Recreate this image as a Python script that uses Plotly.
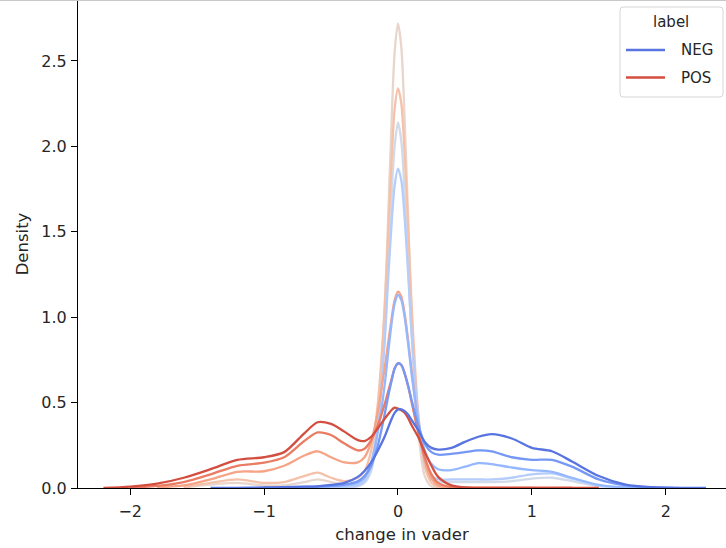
import plotly.graph_objects as go

# shared x grid (change in vader)
x_grid = [-2.2, -2.0, -1.8, -1.6, -1.4, -1.2, -1.0, -0.85, -0.7, -0.6, -0.5, -0.4, -0.3, -0.25,
          -0.2, -0.15, -0.1, -0.075, -0.05, -0.025, 0.0, 0.025, 0.05, 0.075, 0.1, 0.15, 0.2,
          0.25, 0.3, 0.4, 0.5, 0.6, 0.7, 0.85, 1.0, 1.15, 1.3, 1.5, 1.7, 1.9, 2.1, 2.3]
N = None

# POS densities (reds), lightest -> darkest
pos_5 = [N, N, N, 0.003, 0.02, 0.03, 0.015, 0.015, 0.035, 0.05, 0.035, 0.02, 0.03, 0.06,
         0.15, 0.40, 1.05, 1.55, 2.10, 2.55, 2.72, 2.58, 2.15, 1.60, 1.05, 0.35, 0.07,
         0.01, 0.002, 0.0, 0.0, 0.0, 0.0, 0.0, 0.0, N, N, N, N, N, N, N]
pos_4 = [N, N, N, 0.005, 0.03, 0.05, 0.03, 0.035, 0.07, 0.09, 0.06, 0.04, 0.06, 0.10,
         0.22, 0.50, 1.05, 1.45, 1.88, 2.22, 2.34, 2.25, 1.95, 1.55, 1.10, 0.45, 0.13,
         0.03, 0.006, 0.001, 0.0, 0.0, 0.0, 0.0, 0.0, N, N, N, N, N, N, N]
pos_3 = [N, N, 0.004, 0.015, 0.05, 0.095, 0.098, 0.13, 0.19, 0.215, 0.18, 0.15, 0.15, 0.18,
         0.27, 0.45, 0.70, 0.84, 0.98, 1.10, 1.15, 1.12, 1.02, 0.87, 0.70, 0.38, 0.16,
         0.055, 0.015, 0.002, 0.0, 0.0, 0.0, 0.0, 0.0, 0.0, 0.0, N, N, N, N, N]
pos_2 = [N, 0.003, 0.012, 0.035, 0.08, 0.13, 0.148, 0.18, 0.275, 0.325, 0.31, 0.26, 0.22, 0.23,
         0.28, 0.37, 0.49, 0.56, 0.63, 0.70, 0.73, 0.72, 0.67, 0.60, 0.51, 0.33, 0.18,
         0.08, 0.03, 0.005, 0.001, 0.0, 0.0, 0.0, 0.0, 0.0, 0.0, N, N, N, N, N]
pos_1 = [0.0, 0.008, 0.025, 0.06, 0.11, 0.165, 0.18, 0.21, 0.32, 0.385, 0.375, 0.33, 0.28, 0.275,
         0.30, 0.35, 0.405, 0.43, 0.455, 0.47, 0.465, 0.455, 0.44, 0.41, 0.37, 0.30, 0.21,
         0.13, 0.065, 0.015, 0.003, 0.001, 0.0, 0.0, 0.0, 0.0, 0.0, 0.0, N, N, N, N]

# NEG densities (blues), lightest -> darkest
neg_5 = [N, N, N, N, N, N, N, N, 0.001, 0.002, 0.003, 0.004, 0.01, 0.03,
         0.10, 0.36, 0.88, 1.28, 1.68, 2.00, 2.14, 2.03, 1.72, 1.32, 0.92, 0.36, 0.12,
         0.05, 0.035, 0.035, 0.035, 0.035, 0.035, 0.04, 0.055, 0.06, 0.04, 0.01, 0.001, N, N, N]
neg_4 = [N, N, N, N, N, N, N, N, 0.002, 0.004, 0.005, 0.007, 0.015, 0.04,
         0.12, 0.38, 0.85, 1.20, 1.52, 1.77, 1.87, 1.80, 1.58, 1.27, 0.93, 0.42, 0.16,
         0.07, 0.05, 0.05, 0.05, 0.05, 0.05, 0.06, 0.08, 0.085, 0.055, 0.015, 0.002, 0.0, N, N]
neg_3 = [N, N, N, N, N, N, N, 0.002, 0.005, 0.008, 0.01, 0.015, 0.03, 0.06,
         0.15, 0.33, 0.60, 0.78, 0.95, 1.08, 1.13, 1.10, 1.00, 0.85, 0.68, 0.40, 0.22,
         0.14, 0.11, 0.105, 0.125, 0.145, 0.14, 0.12, 0.105, 0.095, 0.06, 0.018, 0.003, 0.0, N, N]
neg_2 = [N, N, N, N, N, N, 0.002, 0.004, 0.006, 0.008, 0.012, 0.02, 0.04, 0.07,
         0.13, 0.25, 0.43, 0.53, 0.62, 0.70, 0.73, 0.72, 0.67, 0.60, 0.52, 0.37, 0.26,
         0.21, 0.195, 0.20, 0.21, 0.22, 0.215, 0.18, 0.165, 0.165, 0.125, 0.05, 0.015, 0.003, 0.0, N]
neg_1 = [N, N, N, N, 0.0, 0.001, 0.003, 0.005, 0.008, 0.01, 0.018, 0.03, 0.065, 0.10,
         0.15, 0.22, 0.30, 0.35, 0.40, 0.44, 0.46, 0.46, 0.45, 0.43, 0.40, 0.34, 0.27,
         0.235, 0.225, 0.235, 0.27, 0.30, 0.315, 0.29, 0.235, 0.215, 0.155, 0.07, 0.02, 0.005, 0.001, 0.0]

pos_series = [pos_5, pos_4, pos_3, pos_2, pos_1]
neg_series = [neg_5, neg_4, neg_3, neg_2, neg_1]
pos_colors = ["#e8d6cc", "#f5c1a9", "#f6a386", "#ea7c63", "#d44e40"]
neg_colors = ["#d1dae9", "#b4cdfa", "#95b7ff", "#7598f6", "#5774e0"]

legend_title = "label"
legend_labels = ["NEG", "POS"]
legend_colors = ["#5774e0", "#d44e40"]

x_ticks = [-2, -1, 0, 1, 2]
x_ticktext = ["\u22122", "\u22121", "0", "1", "2"]
y_ticks = [0.0, 0.5, 1.0, 1.5, 2.0, 2.5]

W, H = 726, 548
ML, MR, MT, MB = 78, 0, 0, 60
PW, PH = W - ML - MR, H - MT - MB


def px_x(p):
    return (p - ML) / PW


def px_y(p):
    return 1 - (p - MT) / PH


fig = go.Figure()
for ps, pc, ns, nc in zip(pos_series, pos_colors, neg_series, neg_colors):
    fig.add_trace(go.Scatter(x=x_grid, y=ps, mode="lines",
                             line=dict(color=pc, width=2.3, shape="spline", smoothing=0.8),
                             showlegend=False, hoverinfo="skip"))
    fig.add_trace(go.Scatter(x=x_grid, y=ns, mode="lines",
                             line=dict(color=nc, width=2.3, shape="spline", smoothing=0.8),
                             showlegend=False, hoverinfo="skip"))

# legend box (matplotlib style, rounded corners)
bx0, bx1, by0, by1, r = 620, 723, 7, 97, 3
path = (f"M {px_x(bx0 + r)} {px_y(by0)} L {px_x(bx1 - r)} {px_y(by0)} "
        f"Q {px_x(bx1)} {px_y(by0)} {px_x(bx1)} {px_y(by0 + r)} "
        f"L {px_x(bx1)} {px_y(by1 - r)} Q {px_x(bx1)} {px_y(by1)} {px_x(bx1 - r)} {px_y(by1)} "
        f"L {px_x(bx0 + r)} {px_y(by1)} Q {px_x(bx0)} {px_y(by1)} {px_x(bx0)} {px_y(by1 - r)} "
        f"L {px_x(bx0)} {px_y(by0 + r)} Q {px_x(bx0)} {px_y(by0)} {px_x(bx0 + r)} {px_y(by0)} Z")
shapes = [
    dict(type="line", xref="paper", yref="paper", x0=px_x(0), x1=1.0, y0=px_y(0.5), y1=px_y(0.5),
         line=dict(color="#c8c8c8", width=1)),
    dict(type="path", xref="paper", yref="paper", path=path,
         line=dict(color="#d6d6d6", width=1), fillcolor="rgba(255,255,255,0.8)", layer="above"),
]
annotations = [dict(text=legend_title, xref="paper", yref="paper", x=px_x(671), y=px_y(22),
                    xanchor="center", yanchor="middle", showarrow=False,
                    font=dict(size=15, color="#262626"))]
for i, (lab, col) in enumerate(zip(legend_labels, legend_colors)):
    yy = 50 + i * 27.5
    shapes.append(dict(type="line", xref="paper", yref="paper", x0=px_x(626), x1=px_x(665),
                       y0=px_y(yy), y1=px_y(yy), line=dict(color=col, width=2.3), layer="above"))
    annotations.append(dict(text=lab, xref="paper", yref="paper", x=px_x(679), y=px_y(yy),
                            xanchor="left", yanchor="middle", showarrow=False,
                            font=dict(size=15, color="#262626")))

font_family = "DejaVu Sans"
fig.update_layout(
    width=W, height=H,
    margin=dict(l=ML, r=MR, t=MT, b=MB),
    paper_bgcolor="white", plot_bgcolor="white",
    font=dict(family=font_family, color="#262626", size=15),
    showlegend=False,
    shapes=shapes,
    annotations=annotations,
)
fig.update_xaxes(
    range=[-2.39, 2.45], tickvals=x_ticks, ticktext=x_ticktext,
    showgrid=False, zeroline=False, showline=True, linecolor="black", linewidth=1,
    ticks="outside", ticklen=6, tickcolor="black", tickfont=dict(size=16),
    ticklabelstandoff=3,
    title=dict(text="change in vader", font=dict(size=16.5), standoff=8),
)
fig.update_yaxes(
    range=[0, 2.857], tickvals=y_ticks, tickformat=".1f",
    showgrid=False, zeroline=False, showline=True, linecolor="black", linewidth=1,
    ticks="outside", ticklen=6, tickcolor="black", tickfont=dict(size=16),
    ticklabelstandoff=1,
    title=dict(text="Density", font=dict(size=16.5), standoff=8),
)

fig.write_html("out.html", config={"displayModeBar": False},
               post_script="document.body.style.margin='0px';document.body.style.padding='0px';")
